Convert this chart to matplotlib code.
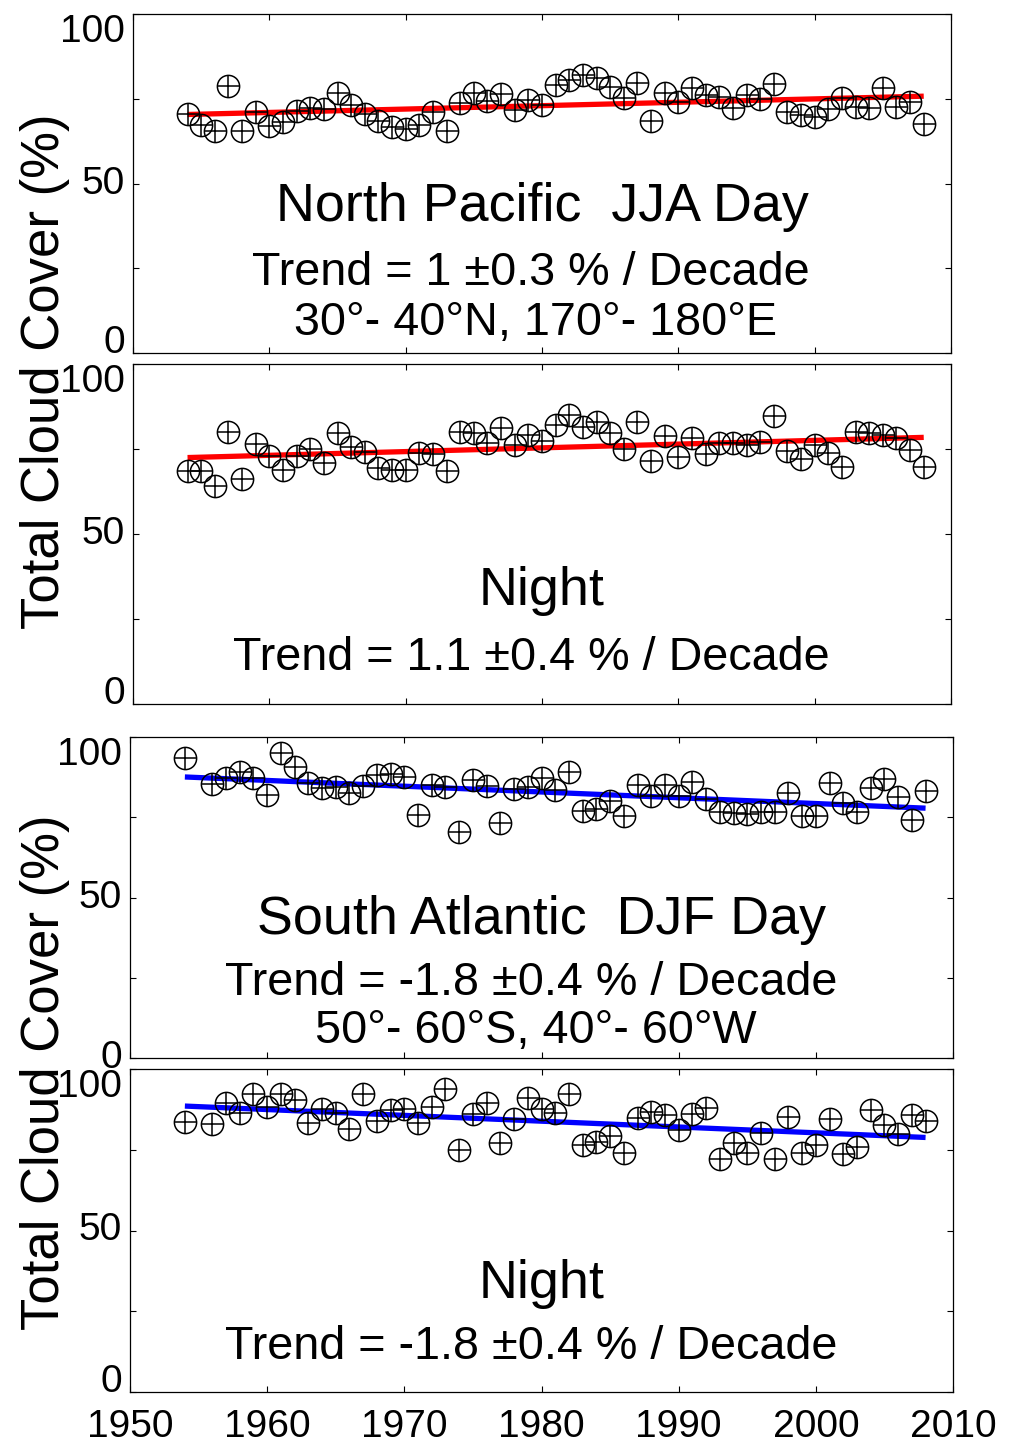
import numpy as np
import matplotlib
matplotlib.use('Agg')
import matplotlib.pyplot as plt

plt.rcParams['font.family'] = ['Liberation Sans', 'DejaVu Sans']

years = list(range(1954, 2009))
nan = np.nan

# North Pacific (30-40N, 170-180E), JJA
np_day = [70.4, 67.3, 65.6, 78.8, 65.5, 71.2, 67.0, 68.2, 71.5, 72.2,
          71.9, 76.6, 73.2, 70.4, 68.5, 66.6, 66.1, 67.3, 71.2, 65.6,
          73.7, 76.8, 74.4, 76.3, 71.7, 74.6, 73.2, 79.1, 80.5, 82.0,
          81.0, 78.4, 75.1, 79.6, 68.5, 76.6, 74.1, 78.1, 76.1, 75.6,
          72.2, 76.1, 74.8, 79.3, 71.0, 70.2, 69.7, 71.9, 75.1, 72.7,
          72.2, 78.1, 72.7, 74.1, 67.6]
np_night = [68.6, 68.6, 64.1, 80.1, 66.1, 76.5, 72.9, 68.8, 72.9, 74.9,
            70.8, 79.8, 75.7, 74.2, 69.5, 68.8, 68.8, 73.7, 73.5, 68.5,
            79.9, 79.8, 76.7, 81.3, 76.2, 79.1, 77.4, 82.1, 85.0, 81.6,
            82.8, 79.6, 74.9, 83.0, 71.5, 78.9, 72.7, 78.3, 73.4, 76.7,
            76.7, 76.2, 77.0, 84.8, 74.4, 72.1, 76.2, 73.7, 69.8, 79.9,
            79.6, 79.1, 78.1, 74.7, 69.8]

# South Atlantic (50-60S, 40-60W), DJF -- no 1955 value
sa_day = [93.4, nan, 85.3, 87.1, 89.0, 87.1, 81.9, 95.1, 90.7, 85.6,
          84.0, 84.5, 82.5, 84.8, 88.2, 88.4, 87.6, 75.7, 85.0, 84.5,
          70.5, 86.6, 84.8, 73.1, 83.8, 84.5, 87.3, 83.5, 89.0, 76.9,
          77.6, 80.1, 75.5, 85.0, 81.6, 85.0, 81.6, 86.1, 80.7, 76.7,
          76.4, 76.0, 76.7, 76.7, 82.5, 75.5, 75.5, 85.6, 79.3, 76.5,
          84.0, 86.9, 81.4, 74.1, 83.2]
sa_night = [83.7, nan, 83.0, 89.4, 86.3, 92.3, 88.1, 92.3, 90.4, 83.2,
            87.5, 86.3, 81.3, 92.3, 84.0, 87.3, 87.5, 83.4, 88.1, 93.7,
            74.9, 86.1, 89.4, 77.2, 84.4, 90.9, 87.5, 86.3, 92.3, 76.5,
            77.5, 79.3, 74.1, 84.7, 86.8, 85.8, 81.1, 86.0, 88.0, 72.0,
            77.0, 73.9, 80.1, 72.0, 85.2, 73.9, 76.5, 84.4, 73.7, 75.9,
            87.3, 82.7, 79.9, 85.8, 84.0]

# trends in % per decade
trends = [1.0, 1.1, -1.8, -1.8]
trend_err = ['0.3', '0.4', '0.4', '0.4']

series = [np_day, np_night, sa_day, sa_night]
line_colors = ['#ff0000', '#ff0000', '#0000ff', '#0000ff']
titles = ['North Pacific  JJA Day', 'Night', 'South Atlantic  DJF Day', 'Night']
regions = ['30\u00b0- 40\u00b0N, 170\u00b0- 180\u00b0E', None,
           '50\u00b0- 60\u00b0S, 40\u00b0- 60\u00b0W', None]

W, H = 1009, 1444
fig = plt.figure(figsize=(W / 100, H / 100), dpi=100)

# panel boxes in pixels: left, right, top, bottom
boxes = [(133, 951, 14, 353), (133, 951, 364, 704),
         (130, 953, 737, 1058), (130, 953, 1069, 1392)]

# text baselines as axes fraction: title, trend, region
text_y = [(0.388, 0.200, 0.053), (0.292, 0.100, None),
          (0.385, 0.196, 0.047), (0.290, 0.103, None)]
# vertical alignment of the "0" label per panel
zero_va = ['baseline', 'baseline', 'center', 'baseline']

x = np.array(years, dtype=float)
for i, (l, r, t, b) in enumerate(boxes):
    ax = fig.add_axes([l / W, 1 - b / H, (r - l) / W, (b - t) / H])
    y = np.array(series[i], dtype=float)
    ok = ~np.isnan(y)

    # trend line with the stated slope, through the data centroid
    slope = trends[i] / 10.0
    icpt = np.mean(y[ok] - slope * x[ok])
    ax.plot([x[0], x[-1]], [icpt + slope * x[0], icpt + slope * x[-1]],
            color=line_colors[i], lw=3.8, solid_capstyle='butt', zorder=2)

    ax.plot(x[ok], y[ok], 'o', ms=16, mfc='none', mec='black', mew=1.1, zorder=3)
    ax.plot(x[ok], y[ok], '+', ms=16, color='black', mew=1.1, zorder=3)

    ax.set_xlim(1950, 2010)
    ax.set_ylim(0, 100)
    ax.set_xticks(range(1950, 2011, 10))
    ax.set_yticks([0, 25, 50, 75, 100], labels=['0', '', '50', '', '100'])
    ax.tick_params(direction='in', top=True, right=True, length=4, width=0.8,
                   labelsize=28, pad=6)
    for lab, va in zip(ax.get_yticklabels(), [zero_va[i], 'center', 'center', 'center', 'top']):
        lab.set_va(va)
    if i < 3:
        ax.tick_params(labelbottom=False)
    else:
        ax.tick_params(axis='x', pad=12)
    for s in ax.spines.values():
        s.set_linewidth(0.9)

    cx_trend = (531 - l) / (r - l)
    cx_region = (536 - l) / (r - l)
    ty, tr, rg = text_y[i]
    ax.text(0.5, ty, titles[i], transform=ax.transAxes, ha='center', va='baseline', fontsize=38.8)
    tstr = 'Trend = %g \u00b1%s %% / Decade' % (trends[i], trend_err[i])
    ax.text(cx_trend, tr, tstr, transform=ax.transAxes, ha='center', va='baseline', fontsize=33.7)
    if rg is not None:
        ax.text(cx_region, rg, regions[i], transform=ax.transAxes, ha='center', va='baseline',
                fontsize=33.7)

fig.text(45 / W, 1 - 371 / H, 'Total Cloud Cover (%)', rotation=90,
         ha='center', va='center', fontsize=38)
fig.text(45 / W, 1 - 1072 / H, 'Total Cloud Cover (%)', rotation=90,
         ha='center', va='center', fontsize=38)

fig.savefig('out.png', dpi=100, facecolor='white')
